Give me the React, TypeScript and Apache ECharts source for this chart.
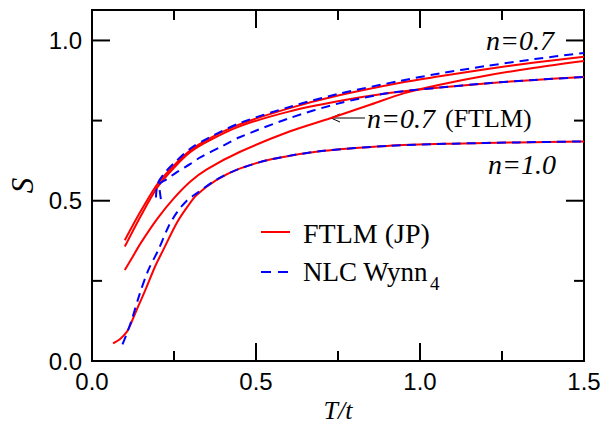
import React, { useEffect, useRef } from 'react';
import * as echarts from 'echarts';

// Tick values
const xMajorTicks = [0.5, 1.0];
const yMajorTicks = [0.5, 1.0];
const xMinorTicks = [0.25, 0.75, 1.25];
const yMinorTicks = [0.25, 0.75];
const xRange = [0, 1.5];
const yRange = [0, 1.095];

// FTLM (JP) curves  [T/t, S]
const ftlmUpper: number[][] = [[0.1,0.377],[0.15,0.47],[0.2,0.553],[0.25,0.61],[0.3,0.657],[0.35,0.69],[0.45,0.738],[0.6,0.788],[0.75,0.828],[0.94,0.868],[1.06,0.888],[1.2,0.91],[1.35,0.931],[1.5,0.949]];
const ftlmMiddle: number[][] = [[0.1,0.357],[0.15,0.455],[0.2,0.543],[0.25,0.603],[0.3,0.652],[0.35,0.684],[0.45,0.732],[0.6,0.778],[0.75,0.81],[0.9,0.835],[1.06,0.853],[1.2,0.866],[1.35,0.877],[1.5,0.886]];
const ftlmN07: number[][] = [[0.1,0.284],[0.12,0.318],[0.15,0.37],[0.2,0.445],[0.25,0.508],[0.3,0.56],[0.35,0.598],[0.45,0.652],[0.6,0.715],[0.72,0.755],[0.85,0.8],[0.95,0.835],[1.06,0.862],[1.2,0.89],[1.35,0.915],[1.5,0.936]];
const ftlmN10: number[][] = [[0.064,0.055],[0.085,0.068],[0.106,0.091],[0.12,0.12],[0.136,0.159],[0.152,0.196],[0.167,0.232],[0.192,0.294],[0.217,0.346],[0.258,0.43],[0.29,0.48],[0.319,0.518],[0.38,0.565],[0.45,0.6],[0.55,0.63],[0.7,0.655],[0.9,0.671],[1.1,0.678],[1.3,0.682],[1.5,0.685]];

// NLC Wynn4 curves
const nlcN07: number[][] = [[0.195,0.51],[0.2,0.553],[0.22,0.585],[0.25,0.617],[0.3,0.663],[0.35,0.693],[0.45,0.742],[0.6,0.792],[0.75,0.833],[0.94,0.874],[1.06,0.897],[1.2,0.92],[1.35,0.942],[1.5,0.961]];
const nlcMiddle: number[][] = [[0.21,0.505],[0.205,0.55],[0.225,0.565],[0.26,0.59],[0.3,0.615],[0.33,0.635],[0.4,0.672],[0.45,0.698],[0.6,0.757],[0.75,0.803],[0.9,0.835],[1.06,0.853],[1.2,0.866],[1.35,0.877],[1.5,0.886]];
const nlcN10: number[][] = [[0.093,0.052],[0.106,0.085],[0.121,0.128],[0.146,0.211],[0.172,0.284],[0.202,0.346],[0.233,0.419],[0.26,0.465],[0.289,0.5],[0.319,0.523],[0.38,0.566],[0.45,0.6],[0.55,0.63],[0.7,0.655],[0.9,0.671],[1.1,0.678],[1.3,0.682],[1.5,0.685]];

const ftlmSeries = [ftlmUpper, ftlmMiddle, ftlmN07, ftlmN10];
const nlcSeries = [nlcN07, nlcMiddle, nlcN10];

const RED = '#ff0000';
const BLUE = '#0000ff';
const SERIF = '"Liberation Serif", "Times New Roman", serif';
const SANS = '"Liberation Sans", Arial, sans-serif';

// plot area in pixels (used to turn tick lengths in px into axis units)
const GRID = { left: 92, right: 29, top: 10, bottom: 61 };
const W = 613 - GRID.left - GRID.right;
const H = 422 - GRID.top - GRID.bottom;

export default function App() {
  const ref = useRef<HTMLDivElement>(null);
  useEffect(() => {
    if (!ref.current) return;
    const chart = echarts.init(ref.current, undefined, { renderer: 'svg' });
    const fmt = (v: number) => {
      const k = v / 0.5;
      return Math.abs(k - Math.round(k)) < 1e-6 ? v.toFixed(1) : '';
    };
    const axis = (pos: string, isX: boolean) => ({
      type: 'value',
      position: pos,
      min: isX ? xRange[0] : yRange[0],
      max: isX ? xRange[1] : yRange[1],
      interval: 0.5,
      splitLine: { show: false },
      axisLine: { show: false },
      axisTick: { show: false },
      axisLabel: {
        show: true,
        color: '#000',
        fontSize: 24,
        fontFamily: SANS,
        margin: isX ? 8 : 10,
        formatter: fmt,
      },
    });

    const series: any[] = [];
    ftlmSeries.forEach((d) => series.push({
      type: 'line', data: d, smooth: 0.3, showSymbol: false,
      lineStyle: { color: RED, width: 2 }, z: 2,
    }));
    nlcSeries.forEach((d) => series.push({
      type: 'line', data: d, smooth: 0.3, showSymbol: false,
      lineStyle: { color: BLUE, width: 2, type: [9, 6] }, z: 3,
    }));

    // Inward ticks on all four sides, drawn as short segments through the axes' scales
    const dxPerPx = (xRange[1] - xRange[0]) / W;
    const dyPerPx = (yRange[1] - yRange[0]) / H;
    const tickSeries = (a: number[], b: number[]) => ({
      type: 'line', data: [a, b], showSymbol: false, silent: true,
      z: 4,
      lineStyle: { color: '#000', width: 2, type: 'solid' },
    });
    const addX = (v: number, px: number) => {
      const dy = px * dyPerPx;
      series.push(tickSeries([v, yRange[0]], [v, yRange[0] + dy]));
      series.push(tickSeries([v, yRange[1]], [v, yRange[1] - dy]));
    };
    const addY = (v: number, px: number) => {
      const dx = px * dxPerPx;
      series.push(tickSeries([xRange[0], v], [xRange[0] + dx, v]));
      series.push(tickSeries([xRange[1], v], [xRange[1] - dx, v]));
    };
    xMajorTicks.forEach((v) => addX(v, 18));
    xMinorTicks.forEach((v) => addX(v, 10));
    yMajorTicks.forEach((v) => addY(v, 18));
    yMinorTicks.forEach((v) => addY(v, 10));

    const txt = (x: number, y: number, text: string, italic: boolean, size: number) => ({
      type: 'text', x, y, z: 60,
      style: { text, fill: '#000', fontFamily: SERIF, fontStyle: italic ? 'italic' : 'normal', fontSize: size, textAlign: 'left', textVerticalAlign: 'middle' },
    });
    chart.setOption({
      animation: false,
      grid: { ...GRID, show: true, borderColor: '#000', borderWidth: 2, backgroundColor: 'transparent', outerBoundsMode: 'none' },
      xAxis: {
        ...axis('bottom', true),
        name: 'T/t', nameLocation: 'middle', nameGap: 28,
        nameTextStyle: { fontFamily: SERIF, fontStyle: 'italic', fontSize: 26, color: '#000' },
      },
      yAxis: {
        ...axis('left', false),
        name: 'S', nameLocation: 'middle', nameGap: 50, nameRotate: 90,
        nameTextStyle: { fontFamily: SERIF, fontStyle: 'italic', fontSize: 31, color: '#000' },
      },
      series,
      graphic: [
        { type: 'line', shape: { x1: 261, y1: 232, x2: 290, y2: 232 }, style: { stroke: RED, lineWidth: 2 } },
        { type: 'line', shape: { x1: 261, y1: 272, x2: 291, y2: 272 }, style: { stroke: BLUE, lineWidth: 2, lineDash: [10, 7] } },
        txt(303, 233, 'FTLM (JP)', false, 28),
        txt(303, 272, 'NLC Wynn', false, 27),
        txt(430, 283, '4', false, 19),
        txt(486, 40, 'n=0.7', true, 28),
        txt(367, 118, 'n=0.7', true, 28),
        txt(445, 118, '(FTLM)', false, 26),
        txt(488, 164, 'n=1.0', true, 28),
        { type: 'line', shape: { x1: 331, y1: 118, x2: 365, y2: 118 }, style: { stroke: '#000', lineWidth: 1 } },
        { type: 'polyline', shape: { points: [[340, 114], [331, 118], [340, 122]] }, style: { stroke: '#000', lineWidth: 1, fill: 'none' } },
      ],
    });
    return () => chart.dispose();
  }, []);
  return <div ref={ref} style={{ position: 'fixed', left: 0, top: 0, width: 613, height: 422, background: '#fff' }} />;
}
